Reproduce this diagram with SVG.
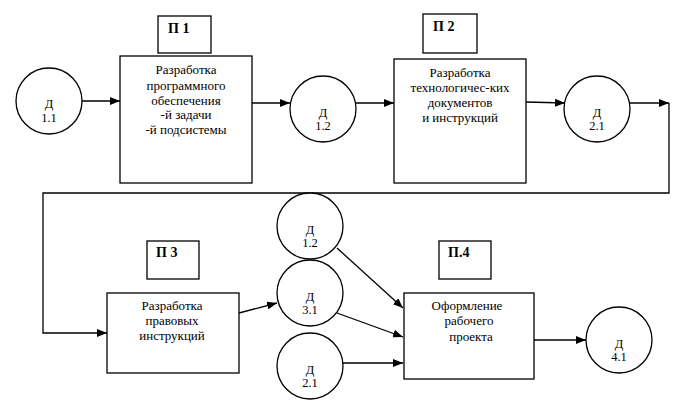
<svg xmlns="http://www.w3.org/2000/svg" width="686" height="413" viewBox="0 0 686 413">
<defs>
<marker id="ah" viewBox="0 0 10 8" refX="10" refY="4" markerWidth="10" markerHeight="8" markerUnits="userSpaceOnUse" orient="auto">
<path d="M0,0 L10,4 L0,8 Z" fill="#000"/>
</marker>
<style>
rect,circle{fill:#fff;stroke:#000;stroke-width:1.3}
.c line,.c polyline{stroke:#000;stroke-width:1.3;fill:none}
.a{marker-end:url(#ah)}
.t{font-size:13px;text-anchor:middle}
.n{font-size:12.5px;text-anchor:middle}
.p{font-size:14px;font-weight:bold}
</style>
</defs>
<rect x="0" y="0" width="686" height="413" style="stroke:none"/>
<g class="c">
<line class="a" x1="82" y1="101" x2="120" y2="101"/>
<line class="a" x1="252" y1="103" x2="290" y2="103"/>
<line class="a" x1="356" y1="103" x2="394" y2="103"/>
<line class="a" x1="526" y1="102" x2="565" y2="103"/>
<line class="a" x1="630" y1="103" x2="669" y2="103"/>
<polyline class="a" points="669,103 669,193 43,193 43,333 107,333"/>
<line class="a" x1="239" y1="313" x2="277" y2="303"/>
<line class="a" x1="337" y1="248" x2="403" y2="308"/>
<line class="a" x1="337" y1="313" x2="403" y2="337"/>
<line class="a" x1="343" y1="363" x2="403" y2="363"/>
<line class="a" x1="534" y1="340" x2="586" y2="340"/>
</g>
<g font-family="'Liberation Serif', 'Times New Roman', 'DejaVu Serif', serif" fill="#000">
<g id="d11"><circle cx="49" cy="101" r="33"/><text class="n" x="49" y="108">Д</text><text class="n" x="49" y="122">1.1</text></g>
<g id="p1label"><rect x="158" y="16" width="53" height="37"/><text class="p" x="168" y="33">П 1</text></g>
<g id="p1"><rect x="120" y="56" width="132" height="127"/>
<text class="t" x="186" y="74">Разработка</text>
<text class="t" x="186" y="90">программного</text>
<text class="t" x="186" y="105">обеспечения</text>
<text class="t" x="186" y="119">-й задачи</text>
<text class="t" x="186" y="134">-й подсистемы</text></g>
<g id="d12a"><circle cx="323" cy="109" r="33"/><text class="n" x="323" y="117">Д</text><text class="n" x="323" y="130">1.2</text></g>
<g id="p2label"><rect x="423" y="14" width="54" height="39"/><text class="p" x="433" y="31">П 2</text></g>
<g id="p2"><rect x="394" y="59" width="132" height="124"/>
<text class="t" x="460" y="77">Разработка</text>
<text class="t" x="460" y="92">технологичес-ких</text>
<text class="t" x="460" y="107">документов</text>
<text class="t" x="460" y="122">и инструкций</text></g>
<g id="d21a"><circle cx="597" cy="109" r="33"/><text class="n" x="597" y="117">Д</text><text class="n" x="597" y="130">2.1</text></g>
<g id="p3label"><rect x="147" y="241" width="52" height="38"/><text class="p" x="156" y="257">П 3</text></g>
<g id="p3"><rect x="107" y="293" width="132" height="80"/>
<text class="t" x="172" y="310">Разработка</text>
<text class="t" x="172" y="325">правовых</text>
<text class="t" x="172" y="340">инструкций</text></g>
<g id="d12b"><circle cx="310" cy="226" r="33"/><text class="n" x="310" y="234">Д</text><text class="n" x="310" y="247">1.2</text></g>
<g id="d31"><circle cx="310" cy="293" r="33"/><text class="n" x="310" y="301">Д</text><text class="n" x="310" y="314">3.1</text></g>
<g id="d21b"><circle cx="310" cy="366" r="33"/><text class="n" x="310" y="374">Д</text><text class="n" x="310" y="387">2.1</text></g>
<g id="p4label"><rect x="439" y="241" width="52" height="38"/><text class="p" x="448" y="257">П.4</text></g>
<g id="p4"><rect x="404" y="293" width="130" height="86"/>
<text class="t" x="467" y="310">Оформление</text>
<text class="t" x="469" y="325">рабочего</text>
<text class="t" x="471" y="341">проекта</text></g>
<g id="d41"><circle cx="619" cy="340" r="33"/><text class="n" x="619" y="348">Д</text><text class="n" x="619" y="361">4.1</text></g>
</g>
</svg>
